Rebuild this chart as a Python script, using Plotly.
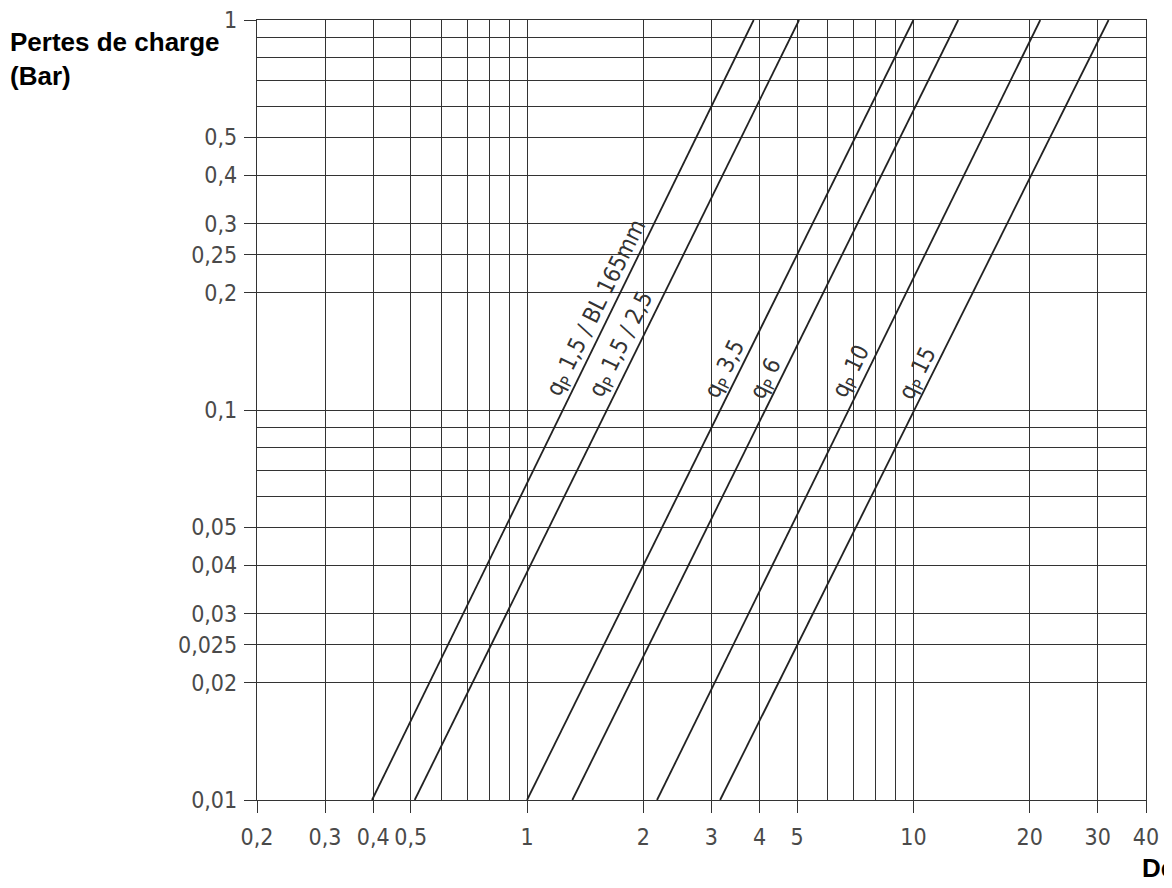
import numpy as np
import plotly.graph_objects as go

# Flow (m3/h) at 0.01 bar and at 1 bar for each meter curve
curve_names = ["qp 1,5 / BL 165mm", "qp 1,5 / 2,5", "qp 3,5", "qp 6", "qp 10", "qp 15"]
flow_at_low = [0.397, 0.512, 1.0, 1.31, 2.17, 3.16]
flow_at_high = [3.86, 5.06, 10.0, 13.06, 21.3, 32.0]
dp_low = 0.01
dp_high = 1.0

# Label texts and label anchor points (flow, pressure loss)
label_texts = ["q<sub>P</sub> 1,5 / BL 165mm", "q<sub>P</sub> 1,5 / 2,5", "q<sub>P</sub> 3,5",
               "q<sub>P</sub> 6", "q<sub>P</sub> 10", "q<sub>P</sub> 15"]
label_x = [1.52, 1.76, 3.26, 4.18, 6.94, 10.3]
label_y = [0.183, 0.147, 0.127, 0.120, 0.125, 0.124]

x_tick_vals = [0.2, 0.3, 0.4, 0.5, 1, 2, 3, 4, 5, 10, 20, 30, 40]
x_tick_text = ["0,2", "0,3", "0,4", "0,5", "1", "2", "3", "4", "5", "10", "20", "30", "40"]
x_minor_vals = [0.6, 0.7, 0.8, 0.9, 6, 7, 8, 9]

y_tick_vals = [0.01, 0.02, 0.025, 0.03, 0.04, 0.05, 0.1, 0.2, 0.25, 0.3, 0.4, 0.5, 1]
y_tick_text = ["0,01", "0,02", "0,025", "0,03", "0,04", "0,05", "0,1", "0,2", "0,25", "0,3", "0,4", "0,5", "1"]
y_minor_vals = [0.06, 0.07, 0.08, 0.09, 0.6, 0.7, 0.8, 0.9]

grid_col = "#333333"
tick_font = dict(family="DejaVu Sans Condensed, Liberation Sans Narrow, sans-serif", size=23, color="#4a4a4a")

fig = go.Figure()
for name, lo, hi in zip(curve_names, flow_at_low, flow_at_high):
    fig.add_trace(go.Scatter(x=[lo, hi], y=[dp_low, dp_high], mode="lines",
                             line=dict(color="#222222", width=1.8), name=name,
                             showlegend=False, hoverinfo="skip"))

for t, lx, ly in zip(label_texts, label_x, label_y):
    fig.add_annotation(x=np.log10(lx), y=np.log10(ly), xref="x", yref="y", text=t,
                       showarrow=False, textangle=-63.5,
                       font=dict(family="DejaVu Sans Condensed, sans-serif", size=23, color="#333333"))

fig.add_annotation(x=-0.280, y=0.993, xref="paper", yref="paper", xanchor="left", yanchor="top",
                   align="left", showarrow=False, text="<b>Pertes de charge<br>(Bar)</b>",
                   font=dict(family="Liberation Sans, Arial, sans-serif", size=26, color="#000000"))
fig.add_annotation(x=0.993, y=-0.087, xref="paper", yref="paper", xanchor="left", yanchor="middle",
                   showarrow=False, text="<b>Débit (m³/h)</b>",
                   font=dict(family="Liberation Sans, Arial, sans-serif", size=26, color="#000000"))

fig.update_xaxes(type="log", range=[np.log10(0.2), np.log10(40)],
                 tickmode="array", tickvals=x_tick_vals, ticktext=x_tick_text,
                 ticks="outside", ticklen=12, tickwidth=1.4, tickcolor=grid_col,
                 showgrid=True, gridcolor=grid_col, gridwidth=1.4,
                 minor=dict(tickmode="array", tickvals=x_minor_vals, showgrid=True,
                            gridcolor=grid_col, gridwidth=1.4, ticks=""),
                 showline=True, linecolor=grid_col, linewidth=1.4, mirror=True,
                 zeroline=False, tickfont=tick_font, ticklabelstandoff=4,
                 ticklabeloverflow="allow", automargin=False)
fig.update_yaxes(type="log", range=[np.log10(0.01), np.log10(1)],
                 tickmode="array", tickvals=y_tick_vals, ticktext=y_tick_text,
                 ticks="outside", ticklen=12, tickwidth=1.4, tickcolor=grid_col,
                 showgrid=True, gridcolor=grid_col, gridwidth=1.4,
                 minor=dict(tickmode="array", tickvals=y_minor_vals, showgrid=True,
                            gridcolor=grid_col, gridwidth=1.4, ticks=""),
                 showline=True, linecolor=grid_col, linewidth=1.4, mirror=True,
                 zeroline=False, tickfont=tick_font, ticklabelstandoff=2,
                 ticklabeloverflow="allow", automargin=False)

fig.update_layout(width=1172, height=888, margin=dict(l=249, r=34, t=12, b=96, autoexpand=False),
                  plot_bgcolor="white", paper_bgcolor="white")

fig.write_html("out.html")
